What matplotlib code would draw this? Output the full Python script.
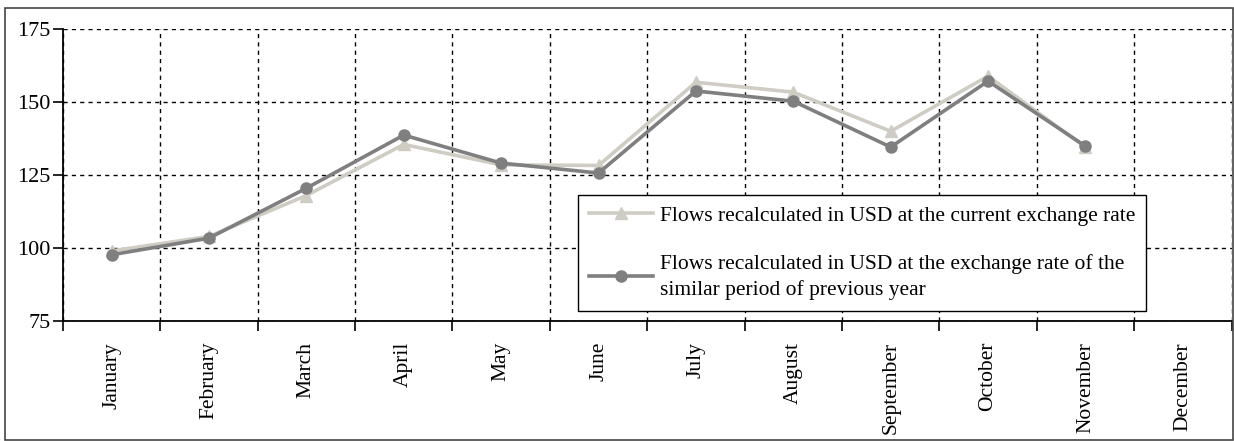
import numpy as np
import matplotlib.pyplot as plt
from matplotlib.patches import Rectangle

months = ["January", "February", "March", "April", "May", "June", "July",
          "August", "September", "October", "November", "December"]

current_rate = [99.0, 104.0, 118.0, 135.5, 128.5, 128.3, 156.8, 153.4, 140.0, 158.9, 134.5]
previous_rate = [97.7, 103.4, 120.5, 138.7, 129.1, 125.7, 153.8, 150.3, 134.6, 157.2, 134.9]

label_current = "Flows recalculated in USD at the current exchange rate"
label_previous = ("Flows recalculated in USD at the exchange rate of the\n"
                  "similar period of previous year")

plt.rcParams['font.family'] = ['Liberation Serif', 'DejaVu Serif']

fig = plt.figure(figsize=(12.34, 4.41), dpi=100)
ax = fig.add_axes([0.051, 0.272, 0.947, 0.662])

x = np.arange(len(current_rate))
ax.plot(x, current_rate, color="#cfccc4", lw=2.6, marker="^", markersize=9,
        label=label_current, zorder=3)
ax.plot(x, previous_rate, color="#7f7f7f", lw=2.6, marker="o", markersize=8,
        label=label_previous, zorder=4)

ax.set_xlim(-0.5, 11.5)
ax.set_ylim(75, 175)
ax.set_yticks([75, 100, 125, 150, 175])
ax.set_xticks(np.arange(-0.5, 11.6, 1.0))
ax.set_xticklabels([])
ax.set_xticks(np.arange(12), minor=True)
ax.set_xticklabels(months, minor=True, rotation=90, fontsize=15.5)
ax.tick_params(axis="x", which="minor", length=0, pad=15)
ax.tick_params(axis="x", which="major", length=7, width=1.2, direction="out")
ax.tick_params(axis="y", length=7, width=1.2, direction="out", labelsize=16, pad=2)

ax.grid(True, which="major", color="black", linestyle=(0, (3, 3)), linewidth=1.0)
for s in ["top", "right"]:
    ax.spines[s].set_visible(False)
ax.spines["left"].set_linewidth(1.3)
ax.spines["bottom"].set_linewidth(1.3)

leg = ax.legend(loc="lower left", bbox_to_anchor=(0.437, 0.02), fontsize=15.5,
                frameon=True, fancybox=False, edgecolor="black", framealpha=1,
                handlelength=3.0, handletextpad=0.3, labelspacing=1.3,
                borderpad=0.5, borderaxespad=0.2)
leg.get_frame().set_linewidth(1.0)
for t in leg.get_texts():
    t.set_linespacing(1.45)

fig.patches.append(Rectangle((0.004, 0.002), 0.995, 0.98, transform=fig.transFigure,
                             fill=False, edgecolor="#444444", linewidth=1.2))

fig.savefig("out.png", dpi=100)
